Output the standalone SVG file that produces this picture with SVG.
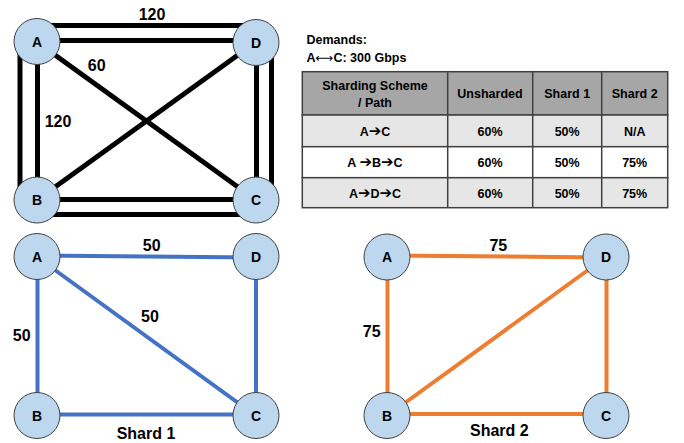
<svg xmlns="http://www.w3.org/2000/svg" width="684" height="443" viewBox="0 0 684 443">
<style>
text{font-family:"Liberation Sans",Arial,sans-serif;font-weight:bold;fill:#000}
.node circle{fill:#BDD7EE;stroke:#404040;stroke-width:1}
.node text{font-size:14px;text-anchor:middle}
.lbl{font-size:16px;text-anchor:middle}
.k{stroke:#000;stroke-width:5;fill:none}
.b{stroke:#4472C4;stroke-width:4;fill:none}
.o{stroke:#ED7D31;stroke-width:4;fill:none}
.cell{stroke:#404040;stroke-width:1.5}
.t{font-size:12.5px;text-anchor:middle}
.arr{font-family:"DejaVu Sans",sans-serif;font-weight:bold;font-size:15px}
</style>
<rect width="684" height="443" fill="#fff"/>
<g id="connectors">
<!-- top graph -->
<line class="k" x1="37" y1="25.5" x2="256" y2="25.5"/>
<line class="k" x1="37" y1="40.5" x2="256" y2="40.5"/>
<line class="k" x1="20" y1="42" x2="20" y2="200"/>
<line class="k" x1="37.5" y1="42" x2="37.5" y2="200"/>
<line class="k" x1="37" y1="199.5" x2="256" y2="199.5"/>
<line class="k" x1="37" y1="214.5" x2="256" y2="214.5"/>
<line class="k" x1="256.5" y1="42" x2="256.5" y2="200"/>
<line class="k" x1="271.5" y1="42" x2="271.5" y2="200"/>
<line class="k" x1="37" y1="42" x2="256" y2="200"/>
<line class="k" x1="37" y1="200" x2="256" y2="42"/>
<!-- shard 1 -->
<line class="b" x1="37" y1="255.5" x2="256" y2="257.5"/>
<line class="b" x1="37.5" y1="257" x2="37.5" y2="416"/>
<line class="b" x1="256" y1="257" x2="256" y2="416"/>
<line class="b" x1="37" y1="414.5" x2="256" y2="414.5"/>
<line class="b" x1="37" y1="257" x2="256" y2="416"/>
<!-- shard 2 -->
<line class="o" x1="387" y1="255.5" x2="606" y2="257.5"/>
<line class="o" x1="387.5" y1="257" x2="387.5" y2="416"/>
<line class="o" x1="606.5" y1="257" x2="606.5" y2="416"/>
<line class="o" x1="387" y1="414" x2="606" y2="414"/>
<line class="o" x1="387" y1="416" x2="606" y2="257"/>
</g>
<g id="top-A" class="node"><circle cx="37" cy="41.5" r="23"/><text x="37" y="46.5">A</text></g>
<g id="top-D" class="node"><circle cx="256" cy="42.5" r="23"/><text x="256" y="47.5">D</text></g>
<g id="top-B" class="node"><circle cx="37" cy="200" r="23"/><text x="37" y="205">B</text></g>
<g id="top-C" class="node"><circle cx="256" cy="200" r="23"/><text x="256" y="205">C</text></g>
<g id="s1-A" class="node"><circle cx="37" cy="256.5" r="23"/><text x="37" y="261.5">A</text></g>
<g id="s1-D" class="node"><circle cx="256" cy="256.5" r="23"/><text x="256" y="261.5">D</text></g>
<g id="s1-B" class="node"><circle cx="37" cy="415.5" r="23"/><text x="37" y="420.5">B</text></g>
<g id="s1-C" class="node"><circle cx="256" cy="415.5" r="23"/><text x="256" y="420.5">C</text></g>
<g id="s2-A" class="node"><circle cx="387" cy="257" r="23"/><text x="387" y="262">A</text></g>
<g id="s2-D" class="node"><circle cx="606" cy="257" r="23"/><text x="606" y="262">D</text></g>
<g id="s2-B" class="node"><circle cx="387" cy="415.5" r="23"/><text x="387" y="420.5">B</text></g>
<g id="s2-C" class="node"><circle cx="606" cy="415.5" r="23"/><text x="606" y="420.5">C</text></g>
<g id="labels">
<text class="lbl" x="152" y="19.7">120</text>
<text class="lbl" x="96.7" y="70.7">60</text>
<text class="lbl" x="58" y="127.4">120</text>
<text class="lbl" x="151.7" y="250.7">50</text>
<text class="lbl" x="150" y="322.4">50</text>
<text class="lbl" x="21.7" y="340.7">50</text>
<text class="lbl" x="146" y="439">Shard 1</text>
<text class="lbl" x="498.3" y="250.7">75</text>
<text class="lbl" x="371.7" y="337.4">75</text>
<text class="lbl" x="499.3" y="436">Shard 2</text>
</g>
<g id="demands">
<text x="306.5" y="44.3" font-size="12.5">Demands:</text>
<text x="306.5" y="62.3" font-size="12.5">A<tspan font-family="DejaVu Sans,sans-serif" font-weight="normal">⟷</tspan>C: 300 Gbps</text>
</g>
<g id="table">
<rect class="cell" x="302.3" y="71.7" width="365.4" height="43.3" fill="#A6A6A6"/>
<rect class="cell" x="302.3" y="115" width="365.4" height="31.7" fill="#E7E6E6"/>
<rect class="cell" x="302.3" y="146.7" width="365.4" height="31" fill="#fff"/>
<rect class="cell" x="302.3" y="177.7" width="365.4" height="30" fill="#E7E6E6"/>
<line class="cell" x1="447.7" y1="71.7" x2="447.7" y2="207.7"/>
<line class="cell" x1="532.7" y1="71.7" x2="532.7" y2="207.7"/>
<line class="cell" x1="601.7" y1="71.7" x2="601.7" y2="207.7"/>
<text class="t" x="375" y="90">Sharding Scheme</text>
<text class="t" x="375" y="106.5">/ Path</text>
<text class="t" x="490" y="97.6">Unsharded</text>
<text class="t" x="567.2" y="97.6">Shard 1</text>
<text class="t" x="634.7" y="97.6">Shard 2</text>
<text class="t" x="375" y="136">A<tspan class="arr">➔</tspan>C</text>
<text class="t" x="490" y="136">60%</text>
<text class="t" x="567.2" y="136">50%</text>
<text class="t" x="634.7" y="136">N/A</text>
<text class="t" x="375" y="166.5">A <tspan class="arr">➔</tspan>B<tspan class="arr">➔</tspan>C</text>
<text class="t" x="490" y="166.5">60%</text>
<text class="t" x="567.2" y="166.5">50%</text>
<text class="t" x="634.7" y="166.5">75%</text>
<text class="t" x="375" y="197.5">A<tspan class="arr">➔</tspan>D<tspan class="arr">➔</tspan>C</text>
<text class="t" x="490" y="197.5">60%</text>
<text class="t" x="567.2" y="197.5">50%</text>
<text class="t" x="634.7" y="197.5">75%</text>
</g>
</svg>
